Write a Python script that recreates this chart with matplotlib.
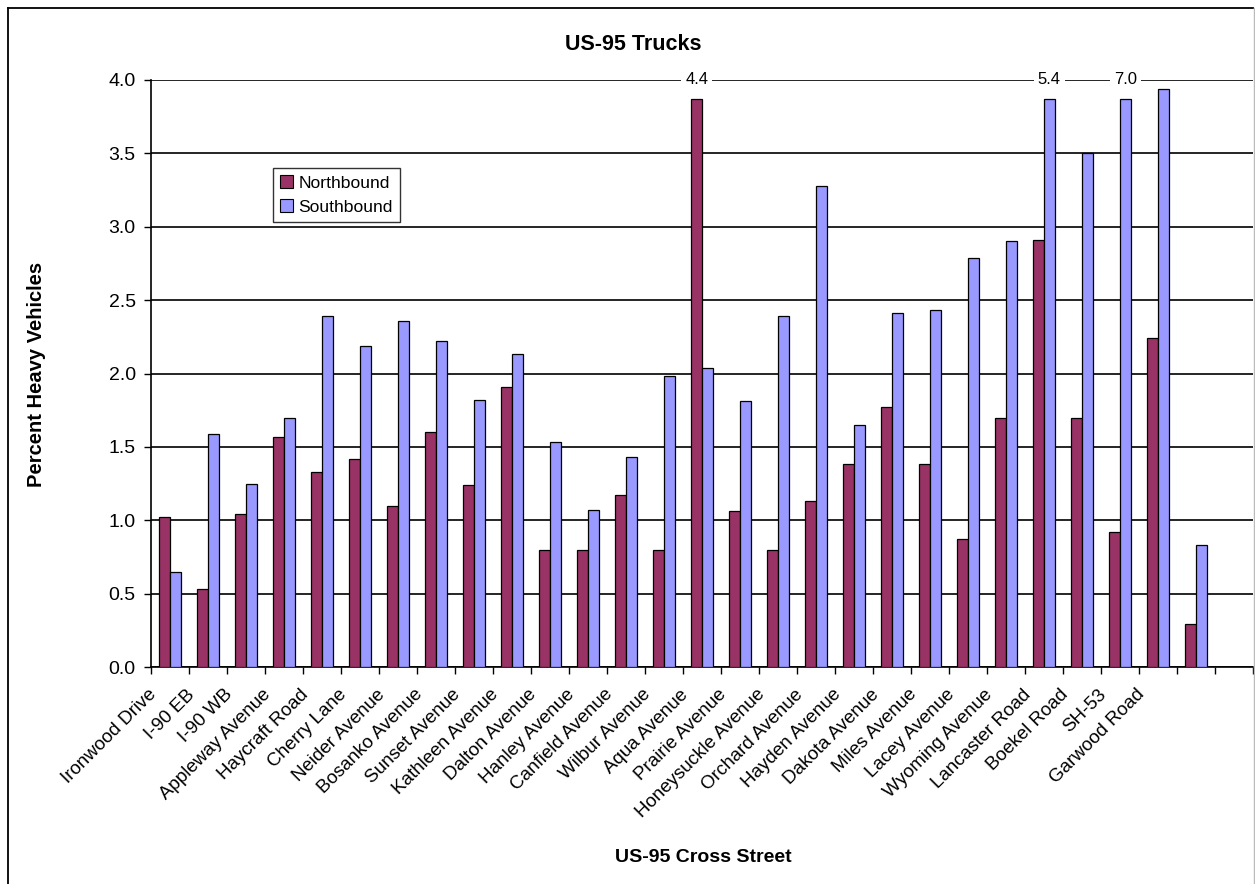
import matplotlib
matplotlib.use("Agg")
import matplotlib.pyplot as plt
import numpy as np
from matplotlib.lines import Line2D
from matplotlib.patches import Patch
from matplotlib.transforms import ScaledTranslation

plt.rcParams['font.family'] = ['Liberation Sans', 'DejaVu Sans']

streets = ["Ironwood Drive", "I-90 EB", "I-90 WB", "Appleway Avenue", "Haycraft Road",
           "Cherry Lane", "Neider Avenue", "Bosanko Avenue", "Sunset Avenue", "Kathleen Avenue",
           "Dalton Avenue", "Hanley Avenue", "Canfield Avenue", "Wilbur Avenue", "Aqua Avenue",
           "Prairie Avenue", "Honeysuckle Avenue", "Orchard Avenue", "Hayden Avenue", "Dakota Avenue",
           "Miles Avenue", "Lacey Avenue", "Wyoming Avenue", "Lancaster Road", "Boekel Road",
           "SH-53", "Garwood Road", "", ""]
northbound = [1.02, 0.53, 1.04, 1.57, 1.33, 1.42, 1.10, 1.60, 1.24, 1.91,
              0.80, 0.80, 1.17, 0.80, 4.4, 1.06, 0.80, 1.13, 1.38, 1.77,
              1.38, 0.87, 1.70, 2.91, 1.70, 0.92, 2.24, 0.29, np.nan]
southbound = [0.65, 1.59, 1.25, 1.70, 2.39, 2.19, 2.36, 2.22, 1.82, 2.13,
              1.53, 1.07, 1.43, 1.98, 2.04, 1.81, 2.39, 3.28, 1.65, 2.41,
              2.43, 2.79, 2.90, 5.4, 3.50, 7.0, 3.94, 0.83, np.nan]
y_ticks = [0.0, 0.5, 1.0, 1.5, 2.0, 2.5, 3.0, 3.5, 4.0]

W, H = 1255, 884
fig = plt.figure(figsize=(W / 100, H / 100), dpi=100)
ax_left, ax_right, ax_top, ax_bot = 151, 1253, 80, 667
ax = fig.add_axes([ax_left / W, 1 - ax_bot / H, (ax_right - ax_left) / W, (ax_bot - ax_top) / H])

ymax = 4.0
cap = 3.87
n = len(streets)
x = np.arange(n) + 0.5
w = 0.28
nb = np.array(northbound, dtype=float)
sb = np.array(southbound, dtype=float)
nb_h = np.where(nb > ymax, cap, nb)
sb_h = np.where(sb > ymax, cap, sb)
ax.bar(x - w / 2, nb_h, width=w, color='#993366', edgecolor='black', linewidth=0.9, zorder=3)
ax.bar(x + w / 2, sb_h, width=w, color='#9999FF', edgecolor='black', linewidth=0.9, zorder=3)

for xs, vals in ((x - w / 2, nb), (x + w / 2, sb)):
    for xi, v in zip(xs, vals):
        if v > ymax:
            ax.text(xi, ymax, f"{v:.1f}", ha='center', va='center', fontsize=12, zorder=5,
                    bbox=dict(facecolor='white', edgecolor='none', pad=3), clip_on=False)

ax.set_xlim(0, n)
ax.set_ylim(0, ymax)
ax.set_yticks(y_ticks)
ax.set_yticklabels([f"{t:.1f}" for t in y_ticks], fontsize=14)
ax.yaxis.grid(True, color='black', linewidth=1.2, zorder=0)
ax.set_axisbelow(True)
for s in ['top', 'right']:
    ax.spines[s].set_visible(False)
for s in ['left', 'bottom']:
    ax.spines[s].set_linewidth(1.2)
ax.tick_params(axis='y', direction='out', length=5, width=1.0, pad=6)

ax.set_xticks(x)
ax.set_xticklabels(streets, fontsize=13.5, rotation=45, ha='right', va='center', rotation_mode='anchor')
ax.set_xticks(np.arange(n + 1), minor=True)
ax.tick_params(axis='x', which='major', length=0, pad=0)
ax.tick_params(axis='x', which='minor', length=5, width=1.0, direction='out')
off = ScaledTranslation(-0.16, -0.25, fig.dpi_scale_trans)
for lab in ax.get_xticklabels():
    lab.set_transform(lab.get_transform() + off)

handles = [Patch(facecolor='#993366', edgecolor='black', linewidth=0.8),
           Patch(facecolor='#9999FF', edgecolor='black', linewidth=0.8)]
leg = ax.legend(handles, ["Northbound", "Southbound"], loc='upper left',
                bbox_to_anchor=((273 - ax_left) / (ax_right - ax_left), (ax_bot - 168) / (ax_bot - ax_top)),
                borderaxespad=0, fontsize=12.6, frameon=True, fancybox=False, shadow=False,
                handlelength=0.75, handleheight=0.75, handletextpad=0.3, labelspacing=0.5,
                borderpad=0.4)
leg.get_frame().set_edgecolor('black')
leg.get_frame().set_linewidth(1.0)
leg.set_zorder(6)

fig.text(633 / W, 1 - 45 / H, "US-95 Trucks", ha='center', va='center', fontsize=15.5, fontweight='bold')
fig.text(703 / W, 1 - 858 / H, "US-95 Cross Street", ha='center', va='center', fontsize=14, fontweight='bold')
fig.text(37 / W, 1 - 374 / H, "Percent Heavy Vehicles", ha='center', va='center', rotation=90,
         fontsize=14.5, fontweight='bold')

# outer chart frame
fig.add_artist(Line2D([8 / W, 8 / W], [1 - 8 / H, 0], transform=fig.transFigure, color='black', linewidth=1.3))
fig.add_artist(Line2D([8 / W, 1253 / W], [1 - 8 / H, 1 - 8 / H], transform=fig.transFigure, color='black', linewidth=1.3))
fig.add_artist(Line2D([1254 / W, 1254 / W], [1 - 8 / H, 0], transform=fig.transFigure, color='#bbbbbb', linewidth=1.0))

fig.savefig("out.png", dpi=100)
